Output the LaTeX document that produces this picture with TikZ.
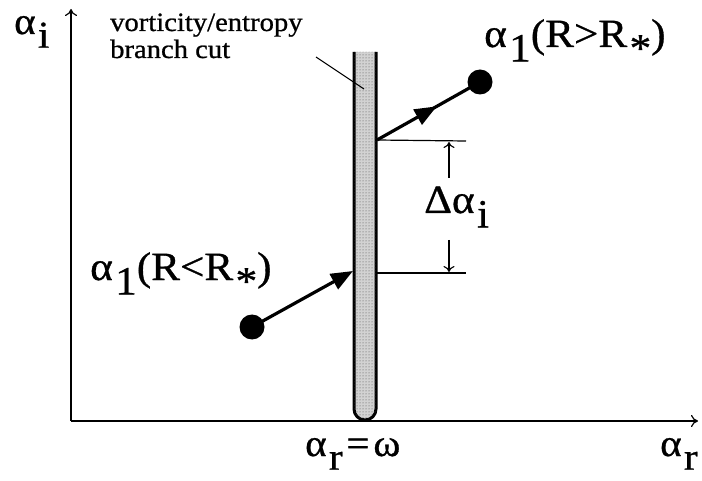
\documentclass[tikz,border=0pt]{standalone}
\usepackage{fontspec}
\setmainfont[FakeStretch=1.08,FakeBold=0.8]{Liberation Serif}
\usetikzlibrary{arrows.meta,decorations.markings,patterns}
\newcommand\lsub[1]{\kern0.06em\raisebox{-0.36em}{#1}}
\begin{document}
\begin{tikzpicture}[x=1pt,y=-1pt,
  axis/.style={line width=1.2pt,-{To[length=7pt,width=12pt]}},
  thin/.style={line width=1.2pt},
  dimarrow/.style={line width=1.1pt,-{To[length=6pt,width=11pt]}},
  flow/.style={line width=3.2pt},
  blob/.style={circle,fill=black,inner sep=0pt,minimum size=25pt},
  cut/.style={line width=3pt,fill=gray!35,postaction={pattern=dots,pattern color=black!70}},
  big/.style={inner sep=0pt,font=\fontsize{40}{40}\selectfont},
  axlbl/.style={inner sep=0pt,font=\fontsize{38}{38}\selectfont},
  note/.style={inner sep=0pt,align=left,font=\fontsize{26.5}{30}\selectfont}]
\useasboundingbox (0,0) rectangle (702,481);
% axes
\coordinate (O) at (71,421);
\coordinate (ytip) at (71,9);
\coordinate (xtip) at (698,421);
\draw[axis] (O) -- (ytip);
\draw[axis] (O) -- (xtip);
% branch cut
\coordinate (bcl) at (354,52);
\coordinate (bcr) at (376,52);
\draw[cut] (bcl) -- (354,409) arc[start angle=180,end angle=0,radius=11] -- (bcr);
% dots
\node[blob] (d1) at (252,327) {};
\node[blob] (d2) at (480,82) {};
\coordinate (e1) at (353,271);
\coordinate (e2) at (377,140);
% flow arrows
\draw[flow,-{Triangle[length=22pt,width=17pt]}] (d1.center) -- (e1);
\draw[flow,decoration={markings,mark=at position 0.58 with {\arrow{Triangle[length=22pt,width=17pt]}}},postaction={decorate}] (e2) -- (d2.center);
% dimension lines
\coordinate (h1e) at (466,141);
\coordinate (h2s) at (377,273);
\coordinate (h2e) at (466,273);
\draw[thin] (e2) -- (h1e);
\draw[thin] (h2s) -- (h2e);
\coordinate (a1s) at (449,178);
\coordinate (a1e) at (449,142);
\coordinate (a2s) at (449,240);
\coordinate (a2e) at (449,272);
\draw[dimarrow] (a1s) -- (a1e);
\draw[dimarrow] (a2s) -- (a2e);
% labels
\node[axlbl,anchor=base west] (ai) at (14,34) {α\lsub{i}};
\node[note,anchor=base west] (n1) at (110,31) {vorticity/entropy};
\node[note,anchor=base west] (n2) at (110,58) {branch cut};
\coordinate (p1) at (316,57);
\coordinate (p2) at (364,89);
\draw[line width=1pt] (p1) -- (p2);
\node[big,anchor=base west] (lu) at (484,47) {α\lsub{1}(R>R\lsub{*})};
\node[big,anchor=base west] (ll) at (90,280) {α\lsub{1}(R<R\lsub{*})};
\node[big,anchor=base west] (da) at (424,213) {Δα\lsub{i}};
\node[axlbl,anchor=base west] (ar) at (305,456) {α\lsub{r}\kern0.1em=\kern0.1em ω};
\node[axlbl,anchor=base west] (ar2) at (660,456) {α\lsub{r}};
\end{tikzpicture}
\end{document}
